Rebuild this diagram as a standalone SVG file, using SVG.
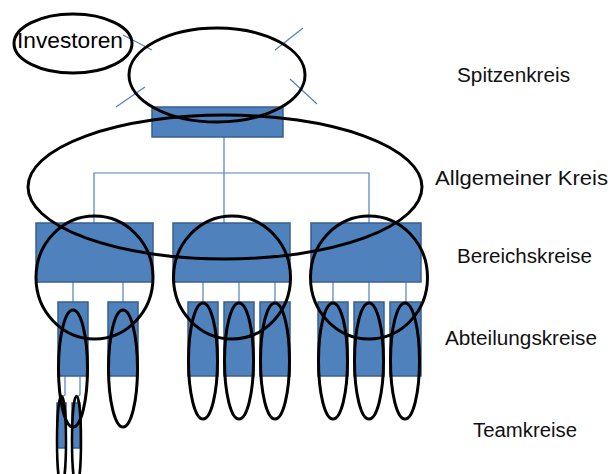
<svg xmlns="http://www.w3.org/2000/svg" width="614" height="474" viewBox="0 0 614 474">
<style>
.box{fill:#4F81BD;stroke:#3A5F8B;stroke-width:1.5}
.ring{fill:none;stroke:#000;stroke-width:3}
.thin{fill:none;stroke:#000;stroke-width:2.5}
.ln{fill:none;stroke:#4F81BD;stroke-width:1.2}
.lbl{font-family:"Liberation Sans",Arial,sans-serif;font-size:20px;fill:#111}
</style>
<rect width="614" height="474" fill="#fff"/>
<g id="connectors">
<line class="ln" x1="123" y1="35" x2="152" y2="50"/>
<line class="ln" x1="303" y1="28" x2="275" y2="50"/>
<line class="ln" x1="116" y1="107" x2="145" y2="87"/>
<line class="ln" x1="290" y1="79" x2="317" y2="104"/>
<line class="ln" x1="224" y1="137" x2="224" y2="223"/>
<polyline class="ln" points="94,223 94,173 369,173 369,223"/>
<line class="ln" x1="73" y1="282" x2="73" y2="302"/>
<line class="ln" x1="123" y1="282" x2="123" y2="302"/>
<line class="ln" x1="203" y1="282" x2="203" y2="302"/>
<line class="ln" x1="239" y1="282" x2="239" y2="302"/>
<line class="ln" x1="275" y1="282" x2="275" y2="302"/>
<line class="ln" x1="333" y1="282" x2="333" y2="302"/>
<line class="ln" x1="369" y1="282" x2="369" y2="302"/>
<line class="ln" x1="406" y1="282" x2="406" y2="302"/>
<polyline class="ln" points="65,376 65,395 63,396 63,403"/>
<polyline class="ln" points="80,376 80,395 78,396 78,403"/>
</g>
<g id="investoren">
<ellipse class="ring" cx="73" cy="43.5" rx="59" ry="29.5"/>
<text x="17" y="48" font-family="Liberation Sans,Arial,sans-serif" font-size="22" textLength="106" lengthAdjust="spacingAndGlyphs" fill="#000">Investoren</text>
</g>
<g id="spitze">
<rect class="box" x="152" y="107" width="131" height="30"/>
<ellipse class="ring" cx="217" cy="75" rx="88" ry="47"/>
</g>
<g id="bereich1">
<rect class="box" x="36" y="223" width="117" height="59"/>
</g>
<g id="bereich2">
<rect class="box" x="173" y="223" width="117" height="59"/>
</g>
<g id="bereich3">
<rect class="box" x="311" y="223" width="110" height="59"/>
</g>
<g id="abteilungen">
<rect class="box" x="58" y="302" width="30" height="74"/>
<rect class="box" x="108" y="302" width="30" height="74"/>
<rect class="box" x="188" y="302" width="30" height="74"/>
<rect class="box" x="224" y="302" width="30" height="74"/>
<rect class="box" x="260" y="302" width="30" height="74"/>
<rect class="box" x="318" y="302" width="30" height="74"/>
<rect class="box" x="354" y="302" width="30" height="74"/>
<rect class="box" x="390" y="302" width="31" height="74"/>
</g>
<g id="teams">
<rect class="box" x="57" y="403" width="9" height="45"/>
<rect class="box" x="72" y="403" width="8" height="45"/>
</g>
<g id="kreise">
<ellipse class="ring" cx="225" cy="187" rx="197" ry="72"/>
<ellipse class="ring" cx="94.5" cy="277.5" rx="58.5" ry="61.5"/>
<ellipse class="ring" cx="232" cy="277.5" rx="58.5" ry="61.5"/>
<ellipse class="ring" cx="369" cy="277.5" rx="58.5" ry="61.5"/>
<ellipse class="ring" cx="73" cy="368.5" rx="14.5" ry="58.5"/>
<ellipse class="ring" cx="123" cy="368.5" rx="14.5" ry="58.5"/>
<ellipse class="ring" cx="203" cy="361" rx="14.5" ry="58"/>
<ellipse class="ring" cx="239" cy="361" rx="14.5" ry="58"/>
<ellipse class="ring" cx="275" cy="361" rx="14.5" ry="58"/>
<ellipse class="ring" cx="333" cy="361" rx="14.5" ry="58"/>
<ellipse class="ring" cx="369" cy="361" rx="14.5" ry="58"/>
<ellipse class="ring" cx="405" cy="361" rx="14.5" ry="58"/>
<ellipse class="thin" cx="61.5" cy="441" rx="4.5" ry="45"/>
<ellipse class="thin" cx="76.5" cy="441" rx="4.5" ry="45"/>
</g>
<g id="labels">
<text class="lbl" x="457" y="82" textLength="113" lengthAdjust="spacingAndGlyphs">Spitzenkreis</text>
<text class="lbl" x="435" y="185" textLength="173" lengthAdjust="spacingAndGlyphs">Allgemeiner Kreis</text>
<text class="lbl" x="457" y="263" textLength="135" lengthAdjust="spacingAndGlyphs">Bereichskreise</text>
<text class="lbl" x="445" y="345" textLength="152" lengthAdjust="spacingAndGlyphs">Abteilungskreise</text>
<text class="lbl" x="473" y="437" textLength="104" lengthAdjust="spacingAndGlyphs">Teamkreise</text>
</g>
</svg>
